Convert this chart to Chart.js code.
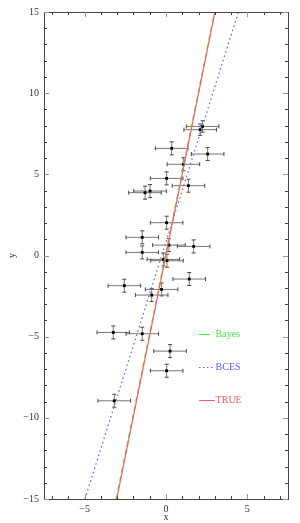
<!DOCTYPE html>
<html>
<head>
<meta charset="utf-8">
<script src="https://cdn.jsdelivr.net/npm/chart.js@4"></script>
<style>
  html, body { margin: 0; padding: 0; background: #fff; }
  #wrap { width: 300px; height: 523px; }
</style>
</head>
<body>
<div id="wrap"><canvas id="chart" width="300" height="523"></canvas></div>
<script>
// measured points with errors
const xVals = [2.25, 2.1, 0.35, 2.56, 1.07, 0.04, 1.38, -0.98, -1.29, 0.04, -1.46, 0.18, 1.70,
  -1.46, -0.16, 0.06, 1.43, -2.56, -0.27, -0.88, -3.24, -1.46, 0.25, 0.04, -3.18];
const yVals = [7.95, 7.75, 6.60, 6.25, 5.62, 4.75, 4.30, 3.97, 3.87, 2.02, 1.12, 0.64, 0.56,
  0.19, -0.24, -0.32, -1.45, -1.86, -2.09, -2.44, -4.74, -4.82, -5.89, -7.10, -8.95];
const xErr = [1.0, 1.0, 1.0, 1.0, 1.0, 1.0, 1.0, 1.0, 1.0, 1.0, 1.0, 1.0, 1.0,
  1.0, 1.0, 1.0, 1.0, 1.0, 1.0, 1.0, 1.0, 1.0, 1.0, 1.0, 1.0];
const yErr = [0.35, 0.35, 0.4, 0.4, 0.4, 0.4, 0.4, 0.4, 0.4, 0.4, 0.4, 0.4, 0.4,
  0.4, 0.4, 0.4, 0.4, 0.4, 0.4, 0.4, 0.4, 0.4, 0.4, 0.4, 0.4];

// fitted lines, end points where they leave the frame
const trueX = [-3.03, 3.01];
const trueY = [-15, 15];
const bayesX = [-3.06, 2.99];
const bayesY = [-15, 15];
const bcesX = [-4.98, 4.45];
const bcesY = [-15, 15];

const legendLabels = ['Bayes', 'BCES', 'TRUE'];
const legendY = [-4.84, -6.85, -8.9];

const xMin = -7.5, xMax = 7.5, yMin = -15, yMax = 15;
const xMajor = [-5, 0, 5];
const yMajor = [-15, -10, -5, 0, 5, 10, 15];

const FONT = '"Liberation Serif", "DejaVu Serif", serif';
const RED = '#ff5a5a', GREEN = '#44ee44', BLUE = '#5a5aff';

const toPts = (xs, ys) => xs.map((x, i) => ({ x: x, y: ys[i] }));
const fmt = (v) => String(v).replace('-', '\u2212');

const framePlugin = {
  id: 'frame',
  beforeDatasetsDraw(chart) {
    const ctx = chart.ctx;
    const xs = chart.scales.x, ys = chart.scales.y;
    ctx.save();
    // error bars
    ctx.lineWidth = 1;
    xVals.forEach((xv, i) => {
      const px = xs.getPixelForValue(xv), py = ys.getPixelForValue(yVals[i]);
      const x0 = xs.getPixelForValue(xv - xErr[i]), x1 = xs.getPixelForValue(xv + xErr[i]);
      const y0 = ys.getPixelForValue(yVals[i] - yErr[i]), y1 = ys.getPixelForValue(yVals[i] + yErr[i]);
      ctx.strokeStyle = '#777';
      ctx.beginPath();
      ctx.moveTo(x0, py); ctx.lineTo(x1, py);
      ctx.moveTo(px, y0); ctx.lineTo(px, y1);
      ctx.stroke();
      ctx.strokeStyle = '#444';
      ctx.beginPath();
      ctx.moveTo(x0, py - 2); ctx.lineTo(x0, py + 2);
      ctx.moveTo(x1, py - 2); ctx.lineTo(x1, py + 2);
      ctx.moveTo(px - 2, y0); ctx.lineTo(px + 2, y0);
      ctx.moveTo(px - 2, y1); ctx.lineTo(px + 2, y1);
      ctx.stroke();
    });
    ctx.restore();
  },
  afterDraw(chart) {
    const ctx = chart.ctx;
    const a = chart.chartArea;
    const xs = chart.scales.x, ys = chart.scales.y;
    ctx.save();
    // box
    ctx.strokeStyle = '#444';
    ctx.lineWidth = 1;
    ctx.strokeRect(Math.round(a.left) + 0.5, Math.round(a.top) + 0.5,
      Math.round(a.right - a.left), Math.round(a.bottom - a.top));
    // inside ticks, one per unit
    for (let v = Math.ceil(xMin); v <= xMax; v++) {
      const px = Math.round(xs.getPixelForValue(v)) + 0.5;
      const major = xMajor.includes(v);
      const len = major ? 5 : 3;
      ctx.strokeStyle = major ? '#999' : '#444';
      ctx.beginPath();
      ctx.moveTo(px, a.bottom); ctx.lineTo(px, a.bottom - len);
      ctx.moveTo(px, a.top); ctx.lineTo(px, a.top + len);
      ctx.stroke();
    }
    for (let v = yMin; v <= yMax; v++) {
      const py = Math.round(ys.getPixelForValue(v)) + 0.5;
      const major = yMajor.includes(v);
      const len = major ? 5 : 3;
      ctx.strokeStyle = major ? '#999' : '#444';
      ctx.beginPath();
      ctx.moveTo(a.left, py); ctx.lineTo(a.left + len, py);
      ctx.moveTo(a.right, py); ctx.lineTo(a.right - len, py);
      ctx.stroke();
    }
    // legend inside the plot
    const colors = [GREEN, BLUE, RED];
    const dashes = [[], [1.5, 2.5], []];
    const ends = [2.7, 2.9, 3.0];
    const lx = xs.getPixelForValue(2.03);
    ctx.font = '10px ' + FONT;
    ctx.textBaseline = 'middle';
    legendLabels.forEach((lab, i) => {
      const py = Math.round(ys.getPixelForValue(legendY[i])) + 0.5;
      ctx.strokeStyle = colors[i];
      ctx.lineWidth = 1;
      ctx.setLineDash(dashes[i]);
      ctx.beginPath();
      ctx.moveTo(lx, py); ctx.lineTo(xs.getPixelForValue(ends[i]), py);
      ctx.stroke();
      ctx.setLineDash([]);
      ctx.fillStyle = colors[i];
      ctx.fillText(lab, xs.getPixelForValue(3.05), py);
    });
    ctx.restore();
  }
};

new Chart(document.getElementById('chart'), {
  type: 'scatter',
  data: {
    datasets: [
      {
        label: 'TRUE',
        data: toPts(trueX, trueY),
        showLine: true,
        borderColor: RED,
        borderWidth: 1.2,
        pointRadius: 0,
      },
      {
        label: 'Bayes',
        data: toPts(bayesX, bayesY),
        showLine: true,
        borderColor: GREEN,
        borderWidth: 1.4,
        borderDash: [5, 4],
        pointRadius: 0,
      },
      {
        label: 'BCES',
        data: toPts(bcesX, bcesY),
        showLine: true,
        borderColor: BLUE,
        borderWidth: 1.2,
        borderDash: [1.5, 3],
        pointRadius: 0,
      },
      {
        label: 'data',
        data: toPts(xVals, yVals),
        pointStyle: 'rect',
        pointRadius: 2,
        backgroundColor: '#000',
        borderColor: '#000',
        borderWidth: 0,
      },
    ],
  },
  options: {
    responsive: false,
    animation: false,
    events: [],
    layout: { padding: { left: 0, right: 12, top: 12, bottom: 0 } },
    plugins: { legend: { display: false }, tooltip: { enabled: false } },
    scales: {
      x: {
        type: 'linear',
        min: xMin,
        max: xMax,
        grid: { display: false, drawTicks: false },
        border: { display: false },
        afterBuildTicks: (s) => { s.ticks = xMajor.map((v) => ({ value: v })); },
        ticks: {
          autoSkip: false,
          maxRotation: 0,
          padding: 4,
          color: '#333',
          font: { family: FONT, size: 10 },
          callback: (v) => fmt(v),
        },
        title: { display: true, text: 'x', color: '#333', font: { family: FONT, size: 10 }, padding: { top: -2, bottom: 0 } },
        afterFit: (s) => { s.height = 24; },
      },
      y: {
        type: 'linear',
        min: yMin,
        max: yMax,
        grid: { display: false, drawTicks: false },
        border: { display: false },
        afterBuildTicks: (s) => { s.ticks = yMajor.map((v) => ({ value: v })); },
        ticks: {
          autoSkip: false,
          padding: 5,
          color: '#333',
          font: { family: FONT, size: 10 },
          callback: (v) => fmt(v),
        },
        title: { display: true, text: 'y', color: '#333', font: { family: FONT, size: 10 }, padding: 6 },
        afterFit: (s) => { s.width = 44; },
      },
    },
  },
  plugins: [framePlugin],
});
</script>
</body>
</html>
